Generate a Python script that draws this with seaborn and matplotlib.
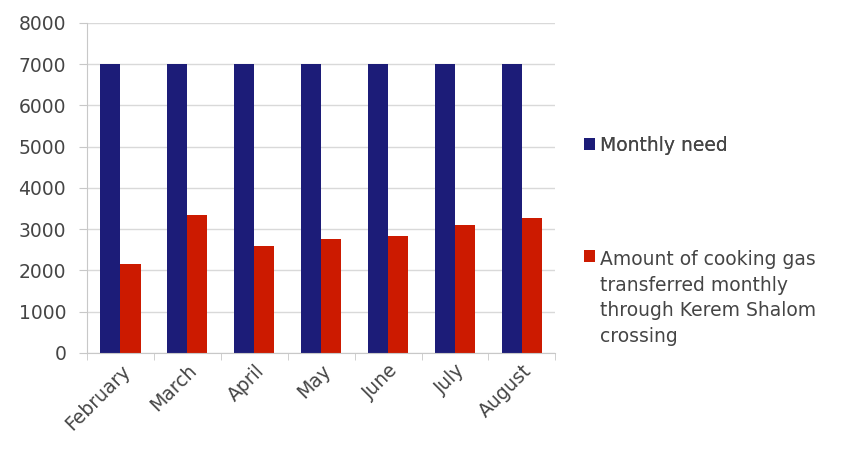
import numpy as np
import pandas as pd
import matplotlib
matplotlib.use("Agg")
import matplotlib.pyplot as plt
import seaborn as sns

months = ["February", "March", "April", "May", "June", "July", "August"]
monthly_need = [7000, 7000, 7000, 7000, 7000, 7000, 7000]
transferred = [2150, 3350, 2600, 2750, 2830, 3100, 3270]
series_names = ["Monthly need",
                "Amount of cooking gas\ntransferred monthly\nthrough Kerem Shalom\ncrossing"]
y_ticks = [0, 1000, 2000, 3000, 4000, 5000, 6000, 7000, 8000]

df = pd.DataFrame({
    "month": months * 2,
    "value": monthly_need + transferred,
    "series": [series_names[0]] * len(months) + [series_names[1]] * len(months),
})

sns.set_style("white")
plt.rcParams["font.family"] = ["DejaVu Sans"]
text_color = "#454545"
fs = 13.5

fig = plt.figure(figsize=(8.53, 4.57), dpi=100)
ax = fig.add_axes([0.102, 0.228, 0.549, 0.722])

sns.barplot(data=df, x="month", y="value", hue="series", order=months,
            hue_order=series_names, palette=["#1c1c78", "#cc1a00"],
            width=0.6, gap=0, saturation=1, linewidth=0, ax=ax)

handles, labels = ax.get_legend_handles_labels()
ax.get_legend().remove()

ax.set_ylim(0, 8000)
ax.set_yticks(y_ticks)
ax.set_xlim(-0.5, len(months) - 0.5)
ax.yaxis.grid(True, color="#d9d9d9", linewidth=1)
ax.set_axisbelow(True)
for s in ["top", "right"]:
    ax.spines[s].set_visible(False)
for s in ["left", "bottom"]:
    ax.spines[s].set_color("#c8c8c8")
ax.set_xlabel("")
ax.set_ylabel("")
ax.tick_params(axis="y", labelsize=fs, colors=text_color, length=6, pad=9,
               color="#c8c8c8", direction="out", left=True)
ax.tick_params(axis="x", labelsize=fs, colors=text_color, length=0, pad=6)
# category dividers on x axis
ax.set_xticks(np.arange(len(months) + 1) - 0.5, minor=True)
ax.tick_params(axis="x", which="minor", length=5, color="#c8c8c8",
               direction="out", bottom=True)
for lab in ax.get_xticklabels():
    lab.set_rotation(45)
    lab.set_ha("right")
    lab.set_rotation_mode("anchor")

leg_kw = dict(loc="upper left", frameon=False, fontsize=fs, handlelength=0.6,
              handleheight=0.6, handletextpad=0.25, labelcolor=text_color)
leg1 = fig.legend([handles[0]], [labels[0]], bbox_to_anchor=(0.665, 0.74), **leg_kw)
fig.add_artist(leg1)
leg2 = fig.legend([handles[1]], [labels[1]], bbox_to_anchor=(0.665, 0.49), **leg_kw)
for t in leg2.get_texts():
    t.set_linespacing(1.45)
# put the marker next to the first line of the label
for col in leg2._legend_handle_box.get_children():
    for hp in col.get_children():
        hp.align = "top"

fig.savefig("out.png", dpi=100)
